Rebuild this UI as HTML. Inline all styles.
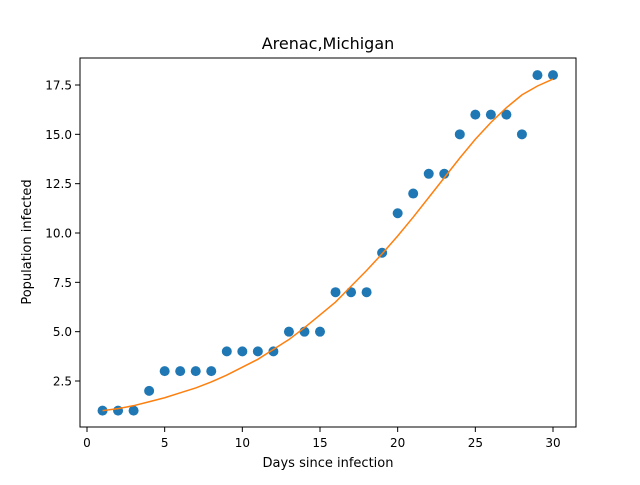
<!DOCTYPE html>
<html><head><meta charset="utf-8"><style>
body{margin:0;background:#fff;}
svg text{font-family:"DejaVu Sans","Liberation Sans",sans-serif;}
</style></head><body>
<svg width="640" height="480" xmlns="http://www.w3.org/2000/svg">
<rect width="640" height="480" fill="#fff"/>
<text x="328" y="49" font-size="16" text-anchor="middle">Arenac,Michigan</text>
<g id="plot"></g>
<rect x="80" y="58" width="496" height="369" fill="none" stroke="#000" stroke-width="1"/>
<text x="328" y="467" font-size="13" text-anchor="middle">Days since infection</text>
<text transform="translate(31,242) rotate(-90)" font-size="13" text-anchor="middle">Population infected</text>
</svg>
<script>
const days=[1,2,3,4,5,6,7,8,9,10,11,12,13,14,15,16,17,18,19,20,21,22,23,24,25,26,27,28,29,30];
const infected=[1,1,1,2,3,3,3,3,4,4,4,4,5,5,5,7,7,7,9,11,12,13,13,15,16,16,16,15,18,18];
const fitted=[1.0,1.1,1.25,1.45,1.65,1.9,2.15,2.45,2.8,3.2,3.6,4.1,4.6,5.2,5.85,6.5,7.3,8.1,8.95,9.85,10.8,11.8,12.8,13.8,14.75,15.6,16.35,17.0,17.45,17.8];
const xTicks=[0,5,10,15,20,25,30];
const yTicks=[2.5,5.0,7.5,10.0,12.5,15.0,17.5];
const NS="http://www.w3.org/2000/svg";
const xs=v=>87+(553-87)*v/30;
const ys=v=>381-(381-85)*(v-2.5)/15;
const g=document.getElementById('plot');
function mk(t,a){const e=document.createElementNS(NS,t);for(const k in a)e.setAttribute(k,a[k]);g.appendChild(e);return e;}
xTicks.forEach(t=>{
 const l=mk('line',{x1:xs(t),x2:xs(t),y1:427,y2:432,stroke:'#000'});
 
 
 const tx=mk('text',{x:xs(t),y:447,'font-size':12,'text-anchor':'middle'});tx.textContent=t;
 
 
});
yTicks.forEach(t=>{
 const l=mk('line',{x1:75,x2:80,y1:ys(t),y2:ys(t),stroke:'#000'});
 
 
 const tx=mk('text',{x:72,y:ys(t)+4.5,'font-size':12,'text-anchor':'end'});tx.textContent=t.toFixed(1);
 
 
});
days.forEach((d,i)=>{
 const c=mk('circle',{cx:xs(d),cy:ys(infected[i]),r:5,fill:'#1f77b4'});
 
 
});
const p=mk('polyline',{points:days.map((d,i)=>xs(d)+','+ys(fitted[i])).join(' '),fill:'none',stroke:'#ff7f0e','stroke-width':1.5});


</script>
</body></html>
